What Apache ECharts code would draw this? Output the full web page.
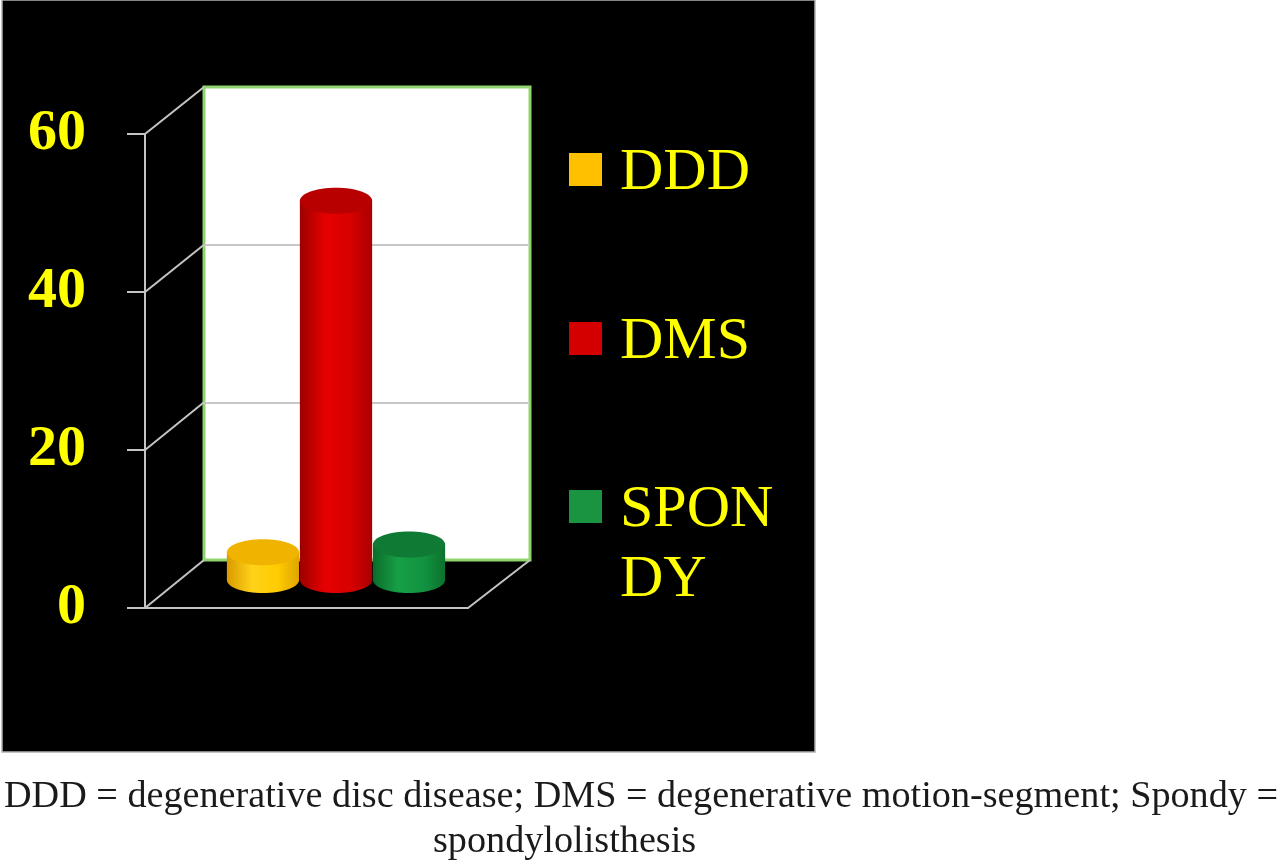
<!DOCTYPE html>
<html>
<head>
<meta charset="utf-8">
<script src="https://cdn.jsdelivr.net/npm/echarts@6/dist/echarts.min.js"></script>
<style>
  html, body { margin: 0; padding: 0; background: #ffffff; }
  #chart { width: 1280px; height: 866px; }
</style>
</head>
<body>
<div id="chart"></div>
<script>
// ---- data ----
const categories = ['DDD', 'DMS', 'SPONDY'];
const values = [3.5, 48, 4.5];
const yTicks = [0, 20, 40, 60];
const captionLine1 = 'DDD = degenerative disc disease; DMS = degenerative motion-segment; Spondy =';
const captionLine2 = 'spondylolisthesis';

// ---- styles ----
const palettes = [
  { base: '#ffc000', side: ['#d99a00', '#ffd21a', '#ffcc00', '#e0a400'], top: '#f0b400' },
  { base: '#d40000', side: ['#9c0000', '#e60000', '#d80000', '#a80000'], top: '#b80000' },
  { base: '#1a9441', side: ['#0b6b2a', '#16a045', '#129340', '#0c722e'], top: '#0f7a33' }
];
const yMin = yTicks[0], yMax = yTicks[yTicks.length - 1], yStep = yTicks[1] - yTicks[0];
const serif = '"Liberation Serif", "Times New Roman", serif';

function cylinder(params, api) {
  const pal = palettes[params.seriesIndex];
  const xi = api.value(0), v = api.value(1);
  const topP = api.coord([xi, v]);
  const baseP = api.coord([xi, 0]);
  const bw = api.size([1, 0])[0];
  const w = bw * 0.99;
  const rx = w / 2, ry = 13;
  const cx = topP[0];
  const grad = new echarts.graphic.LinearGradient(0, 0, 1, 0, [
    { offset: 0, color: pal.side[0] },
    { offset: 0.35, color: pal.side[1] },
    { offset: 0.7, color: pal.side[2] },
    { offset: 1, color: pal.side[3] }
  ]);
  return {
    type: 'group',
    children: [
      { type: 'ellipse', shape: { cx: cx, cy: baseP[1], rx: rx, ry: ry }, style: { fill: grad } },
      { type: 'rect', shape: { x: cx - rx, y: topP[1], width: w, height: baseP[1] - topP[1] }, style: { fill: grad } },
      { type: 'ellipse', shape: { cx: cx, cy: topP[1], rx: rx, ry: ry }, style: { fill: pal.top } }
    ]
  };
}

const chart = echarts.init(document.getElementById('chart'), null, { renderer: 'canvas' });

// caption scaling to match condensed caption font
const mctx = document.createElement('canvas').getContext('2d');
mctx.font = '37px ' + serif;
const capW = mctx.measureText(captionLine1).width;
const capScale = 1274 / capW;

const option = {
  backgroundColor: '#ffffff',
  animation: false,
  graphic: [
    { id: 'panel', type: 'rect', z: -10, shape: { x: 2, y: 0, width: 813, height: 752 },
      style: { fill: '#000000', stroke: '#b0b0b0', lineWidth: 1.5 } },
    { id: 'cap1', type: 'text', x: 641, y: 816, scaleX: capScale,
      style: { text: captionLine1, font: '37px ' + serif, fill: '#1a1a1a', textAlign: 'center', textVerticalAlign: 'bottom' } },
    { id: 'cap2', type: 'text', x: 433, y: 861, scaleX: capScale,
      style: { text: captionLine2, font: '37px ' + serif, fill: '#1a1a1a', textAlign: 'left', textVerticalAlign: 'bottom' } }
  ],
  grid: [
    { left: 204, top: 87, width: 326, height: 473, show: true, backgroundColor: '#ffffff', borderColor: '#8fd46c', borderWidth: 3 },
    { left: 145, top: 134, width: 323, height: 474, show: false },
    { left: 226.5, top: 106, width: 219, height: 474, show: false }
  ],
  xAxis: [
    { gridIndex: 0, type: 'value', min: 0, max: 1, show: false },
    { gridIndex: 1, type: 'value', min: 0, max: 1,
      axisLine: { show: true, lineStyle: { color: '#c4c4c4', width: 2 } },
      axisTick: { show: false }, axisLabel: { show: false }, splitLine: { show: false } },
    { gridIndex: 2, type: 'category', data: categories, show: false }
  ],
  yAxis: [
    { gridIndex: 0, type: 'value', min: yMin, max: yMax, interval: yStep,
      axisLine: { show: false }, axisTick: { show: false }, axisLabel: { show: false },
      splitLine: { show: true, showMinLine: false, showMaxLine: false, lineStyle: { color: '#c8c8c8', width: 2 } } },
    { gridIndex: 1, type: 'value', min: yMin, max: yMax, interval: yStep,
      axisLine: { show: true, lineStyle: { color: '#c4c4c4', width: 2 } },
      axisTick: { show: true, length: 18, lineStyle: { color: '#c4c4c4', width: 2 } },
      axisLabel: { show: true, margin: 59, color: '#ffff00', fontFamily: serif, fontWeight: 'bold', fontSize: 58,
        padding: [18, 0, 0, 0] },
      splitLine: { show: false } },
    { gridIndex: 2, type: 'value', min: yMin, max: yMax, show: false }
  ],
  legend: [
    { data: ['DDD', 'DMS'], orient: 'vertical', left: 569, top: 138.5, padding: 0, itemGap: 99,
      icon: 'path://M0,0H33V33H0ZM46,41L46,41', itemWidth: 46, itemHeight: 41,
      itemStyle: { borderWidth: 0 },
      textStyle: { color: '#ffff00', fontFamily: serif, fontSize: 60, lineHeight: 70 } },
    { data: ['SPONDY'], orient: 'vertical', left: 569, top: 475.5, padding: 0,
      icon: 'path://M0,0H33V33H0ZM46,111L46,111', itemWidth: 46, itemHeight: 111,
      itemStyle: { borderWidth: 0 },
      formatter: function (name) { return name === 'SPONDY' ? 'SPON\nDY' : name; },
      textStyle: { color: '#ffff00', fontFamily: serif, fontSize: 60, lineHeight: 70 } }
  ],
  series: categories.map(function (name, i) {
    return {
      name: name,
      type: 'custom',
      xAxisIndex: 2,
      yAxisIndex: 2,
      itemStyle: { color: palettes[i].base },
      encode: { x: 0, y: 1 },
      data: [[i, values[i]]],
      renderItem: cylinder,
      z: 5
    };
  })
};

chart.setOption(option);

// 3D frame: diagonals linking the front axis to the back wall, derived from axis scales
const frontL = chart.convertToPixel({ xAxisIndex: 1 }, 0);
const frontR = chart.convertToPixel({ xAxisIndex: 1 }, 1);
const backL = chart.convertToPixel({ xAxisIndex: 0 }, 0);
const backR = chart.convertToPixel({ xAxisIndex: 0 }, 1);
const lines = yTicks.map(function (v, k) {
  return {
    id: 'diag' + k, type: 'line', z: 1,
    shape: { x1: frontL, y1: chart.convertToPixel({ yAxisIndex: 1 }, v), x2: backL, y2: chart.convertToPixel({ yAxisIndex: 0 }, v) },
    style: { stroke: '#c4c4c4', lineWidth: 2 }
  };
});
lines.push({
  id: 'floorR', type: 'line', z: 1,
  shape: { x1: frontR, y1: chart.convertToPixel({ yAxisIndex: 1 }, yMin), x2: backR, y2: chart.convertToPixel({ yAxisIndex: 0 }, yMin) },
  style: { stroke: '#c4c4c4', lineWidth: 2 }
});
chart.setOption({ graphic: lines });
</script>
</body>
</html>
